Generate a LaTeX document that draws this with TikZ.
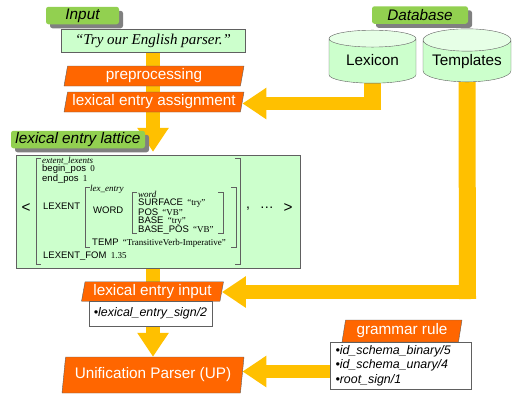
\documentclass[tikz,border=0pt]{standalone}
\usepackage{fontspec}
\setmainfont{Liberation Serif}
\setsansfont{Liberation Sans}
\usetikzlibrary{shapes.geometric,arrows.meta,shadows,backgrounds}

\definecolor{fatyellow}{HTML}{FFC000}
\definecolor{steporange}{HTML}{FF6600}
\definecolor{tagdgreen}{HTML}{92D050}
\definecolor{palegreen}{HTML}{CCFFCC}
\definecolor{endgreen}{HTML}{E6FFE6}
\definecolor{edgegrey}{HTML}{606060}

\newcommand{\sfsize}[1]{\fontsize{#1}{#1}\selectfont\sffamily}
\newcommand{\latsf}{\fontsize{9.5}{9.5}\selectfont\sffamily}
\newcommand{\latrm}{\fontsize{9}{9}\selectfont\rmfamily}

\tikzset{
  taglabel/.style={rectangle,rounded corners=2.5pt,fill=tagdgreen,inner sep=0pt,
    font=\sfsize{15.3}\itshape,minimum height=17.5pt,
    drop shadow={shadow xshift=4pt,shadow yshift=-4pt,fill=gray,opacity=1}},
  stepbox/.style={trapezium,trapezium left angle=76,trapezium right angle=104,
    trapezium stretches body,draw=edgegrey,fill=steporange,text=white,inner sep=0pt,
    font=\sfsize{15.3}},
  listbox/.style={rectangle,draw=edgegrey,fill=white,inner sep=0pt,
    font=\sfsize{12.4}\itshape},
  dbase/.style={cylinder,shape border rotate=90,aspect=0.32,draw=edgegrey,
    cylinder uses custom fill,cylinder body fill=palegreen,cylinder end fill=endgreen,
    inner sep=0pt,minimum height=53pt,text height=11pt,text depth=3pt,font=\sfsize{15.3}},
  fatarrow/.style={draw=fatyellow,line width=14pt,-{Triangle[width=30pt,length=24pt,fill=fatyellow]}},
  fatline/.style={draw=fatyellow,line width=17pt},
  latline/.style={draw=edgegrey,line width=.6pt}
}

\begin{document}
\begin{tikzpicture}[x=1pt,y=-1pt]
  \useasboundingbox (0,0) rectangle (527,400);

  % top left
  \node[taglabel,minimum width=73pt] (inputtag) at (82.5,15.5) {Input};
  \node[draw=edgegrey,fill=palegreen,minimum width=184pt,minimum height=23pt,inner sep=0pt,
    font=\fontsize{15}{15}\selectfont\itshape] (inputbox) at (153,40.5) {“Try our English parser.”};
  \node[stepbox,minimum width=180pt,minimum height=20pt] (preproc) at (154,76) {preprocessing};
  \node[stepbox,minimum width=180pt,minimum height=20pt] (assign) at (154,102) {lexical entry assignment};

  % database
  \node[taglabel,minimum width=96pt] (dbtag) at (420,15) {Database};
  \node[dbase,minimum width=87pt] (lexicon) at (372.5,61) {Lexicon};
  \node[dbase,minimum width=88pt] (templates) at (467,61) {Templates};

  % lattice
  \node[draw=edgegrey,fill=palegreen,minimum width=284pt,minimum height=113pt,inner sep=0pt] (lattice) at (158,211.5) {};
  \node[taglabel,minimum width=134pt] (latticetag) at (78,139.5) {lexical entry lattice};

  \foreach \name/\xpos/\ypos/\txt in {
      ext/42/160.5/{\latrm\itshape extent\_lexents},
      begin/42/169.5/{\latsf begin\_pos\, \latrm 0},
      end/42/179/{\latsf end\_pos\, \latrm 1},
      lexent/43/206/{\latsf LEXENT},
      lexentry/90/189/{\latrm\itshape lex\_entry},
      word/93/210/{\latsf WORD},
      wordtype/138/194/{\latrm\itshape word},
      surface/138/203.5/{\latsf SURFACE\, \latrm “try”},
      pos/138/212/{\latsf POS\, \latrm “VB”},
      base/138/221/{\latsf BASE\, \latrm “try”},
      basepos/138/230/{\latsf BASE\_POS\, \latrm “VB”},
      temp/92/243/{\latsf TEMP\, \latrm “TransitiveVerb-Imperative”},
      fom/43/256/{\latsf LEXENT\_FOM\, \latrm 1.35}}
    \node[anchor=west,inner sep=0pt] (\name) at (\xpos,\ypos) {\txt};

  \node[font=\sfsize{15.3},inner sep=0pt] (open) at (26,208.5) {<};
  \node[font=\sfsize{15.3},inner sep=0pt] (close) at (288,208.5) {>};
  \node[font=\sfsize{14},inner sep=0pt] (dots) at (260,208.5) {,\hspace{10pt}…};

  \foreach \xl/\xr/\ya/\yb in {36/240/158/264, 85/236/187.5/247, 132/223/192/233}{
    \draw[latline] (\xl+5,\ya) -- (\xl,\ya) -- (\xl,\yb) -- (\xl+5,\yb);
    \draw[latline] (\xr-5,\ya) -- (\xr,\ya) -- (\xr,\yb) -- (\xr-5,\yb);
  }

  % bottom
  \node[stepbox,minimum width=142pt,minimum height=19.5pt] (lexinput) at (152.5,291.5) {lexical entry input};
  \node[listbox,minimum width=123pt,minimum height=25pt] (signbox) at (150.5,313.5) {•lexical\_entry\_sign/2};
  \node[stepbox,minimum width=182pt,minimum height=36pt] (parser) at (153,375) {Unification Parser (UP)};
  \node[stepbox,minimum width=120pt,minimum height=22pt] (ruletag) at (402,331) {grammar rule};
  \node[listbox,minimum width=141pt,minimum height=47pt,align=left] (rulebox) at (400.5,365.5)
    {\makebox[130pt][l]{•id\_schema\_binary/5}\\[2pt]•id\_schema\_unary/4\\[2pt]•root\_sign/1};

  \coordinate (lexcorner) at (372.5,110);
  \coordinate (lexbend) at (381,103.5);
  \coordinate (tempcorner) at (467.5,299);
  \coordinate (tempbend) at (476,292);
  \coordinate (rulestart) at (330,371.5);

  \begin{pgfonlayer}{background}
    \draw[fatarrow,shorten >=3pt] (inputbox.south) -- (inputbox.south |- lattice.north);
    \draw[fatarrow] (parser.north |- lattice.south) -- (parser.north);
    \draw[fatline] (lexicon.south) -- (lexcorner);
    \draw[fatarrow,line width=13pt] (lexbend) -- (lexbend -| assign.east);
    \draw[fatline] (templates.south) -- (tempcorner);
    \draw[fatarrow] (tempbend) -- (tempbend -| lexinput.east);
    \draw[fatarrow,line width=13pt] (rulestart) -- (rulestart -| parser.east);
  \end{pgfonlayer}
\end{tikzpicture}
\end{document}
